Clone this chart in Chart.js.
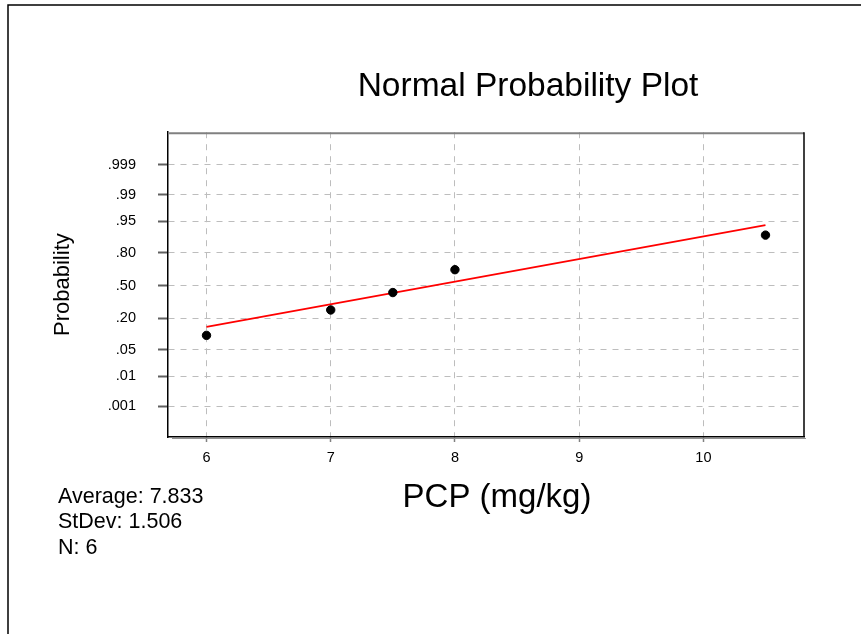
<!DOCTYPE html>
<html>
<head>
<meta charset="utf-8">
<script src="https://cdn.jsdelivr.net/npm/chart.js@4.4.0/dist/chart.umd.min.js"></script>
<style>
html,body{margin:0;padding:0;background:#fff;}
#wrap{width:861px;height:634px;}
</style>
</head>
<body>
<div id="wrap"><canvas id="c" width="861" height="634"></canvas></div>
<script>
// ---- data ----
const pcpValues = [6, 7, 7.5, 8, 10.5];
const plotProbabilities = [0.101, 0.266, 0.429, 0.658, 0.902];
const fitLineX = [6, 10.5];
const fitLineProb = [0.145, 0.939];
const probTickValues = [0.001, 0.01, 0.05, 0.20, 0.50, 0.80, 0.95, 0.99, 0.999];
const probTickLabels = ['.001', '.01', '.05', '.20', '.50', '.80', '.95', '.99', '.999'];
const xTickValues = [6, 7, 8, 9, 10];
const statsLines = ['Average: 7.833', 'StDev: 1.506', 'N: 6'];
const chartTitle = 'Normal Probability Plot';
const xTitle = 'PCP (mg/kg)';
const yTitle = 'Probability';

const FONT = "'Liberation Sans', Arial, Helvetica, sans-serif";

// inverse standard normal CDF (Acklam)
function normInv(p) {
  const a = [-3.969683028665376e+01, 2.209460984245205e+02, -2.759285104469687e+02, 1.383577518672690e+02, -3.066479806614716e+01, 2.506628277459239e+00];
  const b = [-5.447609879822406e+01, 1.615858368580409e+02, -1.556989798598866e+02, 6.680131188771972e+01, -1.328068155288572e+01];
  const c = [-7.784894002430293e-03, -3.223964580411365e-01, -2.400758277161838e+00, -2.549732539343734e+00, 4.374664141464968e+00, 2.938163982698783e+00];
  const d = [7.784695709041462e-03, 3.224671290700398e-01, 2.445134137142996e+00, 3.754408661907416e+00];
  const pl = 0.02425, ph = 1 - pl;
  let q, r;
  if (p < pl) {
    q = Math.sqrt(-2 * Math.log(p));
    return (((((c[0]*q+c[1])*q+c[2])*q+c[3])*q+c[4])*q+c[5]) / ((((d[0]*q+d[1])*q+d[2])*q+d[3])*q+1);
  }
  if (p <= ph) {
    q = p - 0.5; r = q * q;
    return (((((a[0]*r+a[1])*r+a[2])*r+a[3])*r+a[4])*r+a[5])*q / (((((b[0]*r+b[1])*r+b[2])*r+b[3])*r+b[4])*r+1);
  }
  q = Math.sqrt(-2 * Math.log(1 - p));
  return -(((((c[0]*q+c[1])*q+c[2])*q+c[3])*q+c[4])*q+c[5]) / ((((d[0]*q+d[1])*q+d[2])*q+d[3])*q+1);
}

const pointData = pcpValues.map((x, i) => ({x: x, y: normInv(plotProbabilities[i])}));
const lineData = fitLineX.map((x, i) => ({x: x, y: normInv(fitLineProb[i])}));

const decor = {
  id: 'decor',
  beforeDraw(chart) {
    const ctx = chart.ctx;
    ctx.save();
    ctx.fillStyle = '#fff';
    ctx.fillRect(0, 0, chart.width, chart.height);
    // outer frame (left + top)
    ctx.strokeStyle = '#000';
    ctx.lineWidth = 1.5;
    ctx.beginPath();
    ctx.moveTo(8, chart.height);
    ctx.lineTo(8, 5);
    ctx.lineTo(chart.width, 5);
    ctx.stroke();
    ctx.restore();
    // shift x axis title to the reference position
    const xs = chart.scales.x;
    if (xs && !xs._shifted) {
      const orig = xs.drawTitle;
      xs.drawTitle = function () {
        this.ctx.save();
        this.ctx.translate(11, 0);
        orig.apply(this, arguments);
        this.ctx.restore();
      };
      xs._shifted = true;
    }
  },
  afterLayout(chart) {
    const tb = chart.titleBlock;
    if (tb) { tb.left = 528 - 300; tb.right = 528 + 300; }
  },
  afterDraw(chart) {
    const ctx = chart.ctx;
    const a = chart.chartArea;
    ctx.save();
    // top border (grey) and right border (black)
    ctx.strokeStyle = '#808080';
    ctx.lineWidth = 2;
    ctx.beginPath();
    ctx.moveTo(a.left, a.top + 1);
    ctx.lineTo(a.right, a.top + 1);
    ctx.stroke();
    ctx.strokeStyle = '#000';
    ctx.lineWidth = 1.5;
    ctx.beginPath();
    ctx.moveTo(a.right, a.top);
    ctx.lineTo(a.right, a.bottom);
    ctx.stroke();
    // grey shadow under bottom axis
    ctx.strokeStyle = '#909090';
    ctx.lineWidth = 1;
    ctx.beginPath();
    ctx.moveTo(a.left + 4, a.bottom + 1.5);
    ctx.lineTo(a.right + 2, a.bottom + 1.5);
    ctx.stroke();
    // statistics text
    ctx.fillStyle = '#000';
    ctx.font = '21.5px ' + FONT;
    ctx.textBaseline = 'middle';
    ctx.textAlign = 'left';
    statsLines.forEach((t, i) => ctx.fillText(t, 58, 497 + i * 25.5));
    ctx.restore();
  }
};

new Chart(document.getElementById('c'), {
  type: 'scatter',
  data: {
    datasets: [
      {
        label: 'PCP',
        data: pointData,
        backgroundColor: '#000',
        borderColor: '#000',
        pointRadius: 4.2,
        pointHoverRadius: 4.2,
        showLine: false
      },
      {
        label: 'Fit',
        data: lineData,
        showLine: true,
        borderColor: '#ff0000',
        borderWidth: 1.8,
        pointRadius: 0,
        pointHoverRadius: 0,
        fill: false
      }
    ]
  },
  options: {
    responsive: false,
    animation: false,
    devicePixelRatio: 1,
    layout: {padding: {left: 40, top: 0, right: 57, bottom: 0}},
    plugins: {
      legend: {display: false},
      tooltip: {enabled: false},
      title: {
        display: true,
        text: chartTitle,
        color: '#000',
        font: {family: FONT, size: 33.5, weight: 'normal'},
        padding: {top: 67, bottom: 25}
      }
    },
    scales: {
      x: {
        type: 'linear',
        position: 'bottom',
        min: 5.69,
        max: 10.81,
        afterBuildTicks: s => { s.ticks = xTickValues.map(v => ({value: v})); },
        afterFit: s => { s.height = 197; },
        grid: {color: '#bdbdbd', lineWidth: 1, tickLength: 5, tickColor: '#808080', tickWidth: 1.5, tickBorderDash: []},
        border: {display: true, color: '#000', width: 1.5, dash: [6, 6]},
        ticks: {color: '#000', font: {family: FONT, size: 14.5}, padding: 7, maxRotation: 0, autoSkip: false},
        title: {display: true, text: xTitle, color: '#000', font: {family: FONT, size: 33}, padding: {top: 0, bottom: 116}}
      },
      y: {
        type: 'linear',
        position: 'left',
        min: -3.88,
        max: 3.93,
        afterBuildTicks: s => { s.ticks = probTickValues.map(p => ({value: normInv(p)})); },
        afterFit: s => { s.width = 128; },
        grid: {color: '#bdbdbd', lineWidth: 1, tickLength: 10, tickColor: '#606060', tickWidth: 2, tickBorderDash: []},
        border: {display: true, color: '#000', width: 1.5, dash: [6, 6]},
        ticks: {
          color: '#000',
          font: {family: FONT, size: 14.5},
          padding: 22,
          autoSkip: false,
          callback: (v, i) => probTickLabels[i]
        },
        title: {display: true, text: yTitle, color: '#000', font: {family: FONT, size: 22}, padding: {top: 10, bottom: 0}}
      }
    }
  },
  plugins: [decor]
});
</script>
</body>
</html>
